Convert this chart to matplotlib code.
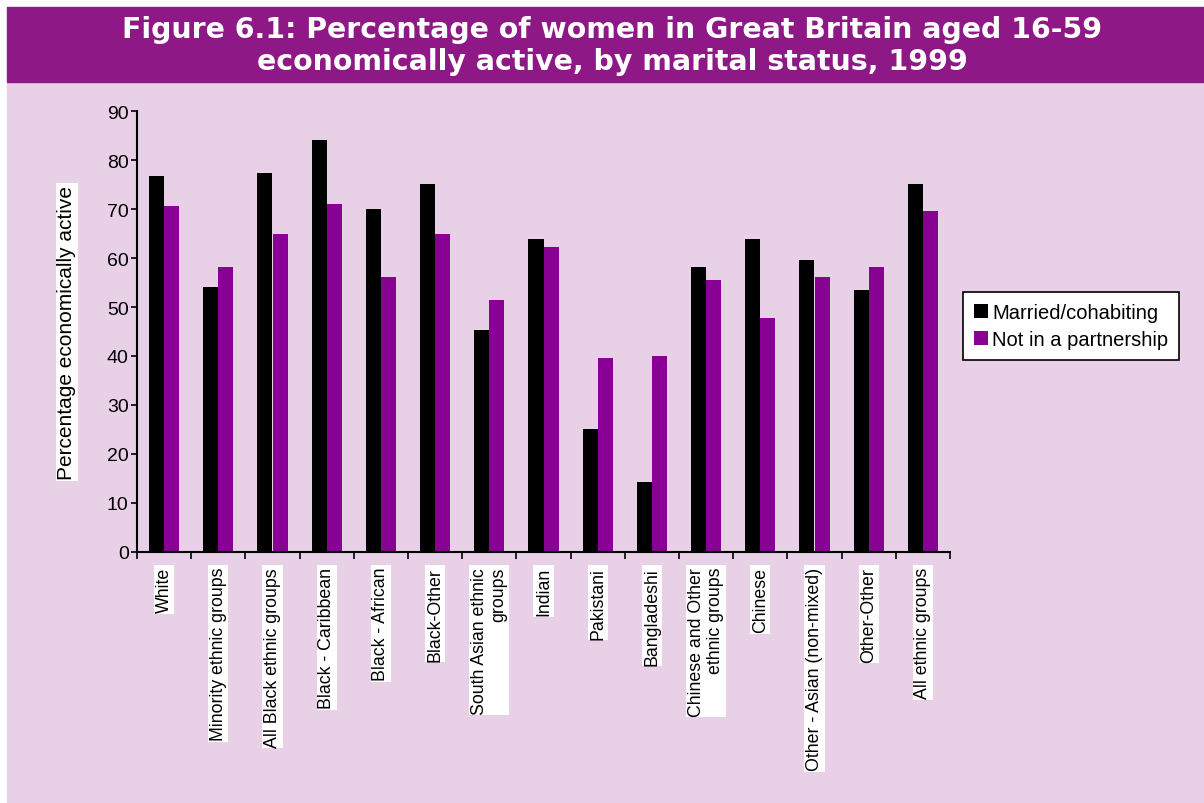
import numpy as np
import matplotlib.pyplot as plt
from matplotlib.patches import Rectangle

plt.rcParams['font.family'] = ['Liberation Sans', 'DejaVu Sans']

# Economic activity of women aged 16-59, Great Britain 1999
groups = [
    'White', 'Minority ethnic groups', 'All Black ethnic groups',
    'Black - Caribbean', 'Black - African', 'Black-Other',
    'South Asian ethnic\ngroups', 'Indian', 'Pakistani', 'Bangladeshi',
    'Chinese and Other\nethnic groups', 'Chinese',
    'Other - Asian (non-mixed)', 'Other-Other', 'All ethnic groups',
]
married = [76.8, 54.1, 77.4, 84.1, 70.0, 75.1, 45.3, 63.9, 25.1, 14.3,
           58.2, 63.9, 59.6, 53.4, 75.1]
not_partnered = [70.6, 58.2, 64.9, 71.0, 56.1, 64.9, 51.4, 62.3, 39.6, 40.0,
                 55.5, 47.7, 56.1, 58.2, 69.6]

W, H = 1204, 804
BG = '#e8d0e6'
BANNER = '#8e1886'
PURPLE = '#880094'

fig = plt.figure(figsize=(W / 100, H / 100), dpi=100, facecolor='white')

# page background and title banner (pixel boxes converted to figure fractions)
fig.patches.append(Rectangle((7 / W, 0), 1 - 7 / W, 1 - 83 / H,
                             transform=fig.transFigure, color=BG, zorder=-10))
fig.patches.append(Rectangle((7 / W, 1 - 83 / H), 1 - 7 / W, 75 / H,
                             transform=fig.transFigure, color=BANNER, zorder=-10))

fig.text(612 / W, 1 - 38 / H,
         'Figure 6.1: Percentage of women in Great Britain aged 16-59',
         ha='center', va='baseline', color='white', fontsize=20.4,
         fontweight='bold', family='DejaVu Sans')
fig.text(612 / W, 1 - 70 / H,
         'economically active, by marital status, 1999',
         ha='center', va='baseline', color='white', fontsize=20.4,
         fontweight='bold', family='DejaVu Sans')

ax = fig.add_axes([137 / W, 1 - 552.7 / H, (950 - 137) / W, 440.4 / H])
ax.set_facecolor('none')

x = np.arange(len(groups)) + 0.5
bw = 0.28
ax.bar(x - bw / 2, married, bw, color='black', label='Married/cohabiting')
ax.bar(x + bw / 2, not_partnered, bw, color=PURPLE, label='Not in a partnership')

ax.set_xlim(0, len(groups))
ax.set_ylim(0, 90)
ax.set_yticks(np.arange(0, 91, 10))
ax.tick_params(axis='y', labelsize=14, length=4, width=1.2, pad=2)

# boundary ticks on the category axis, labels at the category centres
ax.set_xticks(np.arange(len(groups) + 1))
ax.set_xticklabels([])
ax.tick_params(axis='x', which='major', length=5, width=1.2, direction='out')
ax.set_xticks(x, minor=True)
ax.set_xticklabels(groups, minor=True, rotation=90, fontsize=12.8,
                   va='top', ha='center', multialignment='right')
ax.tick_params(axis='x', which='minor', length=0, pad=11)
for lab in ax.get_xticklabels(minor=True):
    lab.set_bbox(dict(facecolor='white', edgecolor='none', pad=1.2))

for side in ('top', 'right'):
    ax.spines[side].set_visible(False)
for side in ('left', 'bottom'):
    ax.spines[side].set_linewidth(1.5)

fig.text(67 / W, 1 - 333 / H, 'Percentage economically active',
         rotation=90, ha='center', va='center', fontsize=15,
         bbox=dict(facecolor='white', edgecolor='none', pad=1.2))

leg = fig.legend(loc='upper left', bbox_to_anchor=(963 / W, 1 - 293 / H),
                 fontsize=14.5, frameon=True, fancybox=False,
                 handlelength=0.7, handleheight=0.7, handletextpad=0.2,
                 borderpad=0.55, labelspacing=0.4, borderaxespad=0)
leg.get_frame().set_edgecolor('black')
leg.get_frame().set_linewidth(1.2)
leg.get_frame().set_facecolor('white')
leg.get_frame().set_alpha(1)

fig.savefig('out.png', dpi=100, facecolor='white')
